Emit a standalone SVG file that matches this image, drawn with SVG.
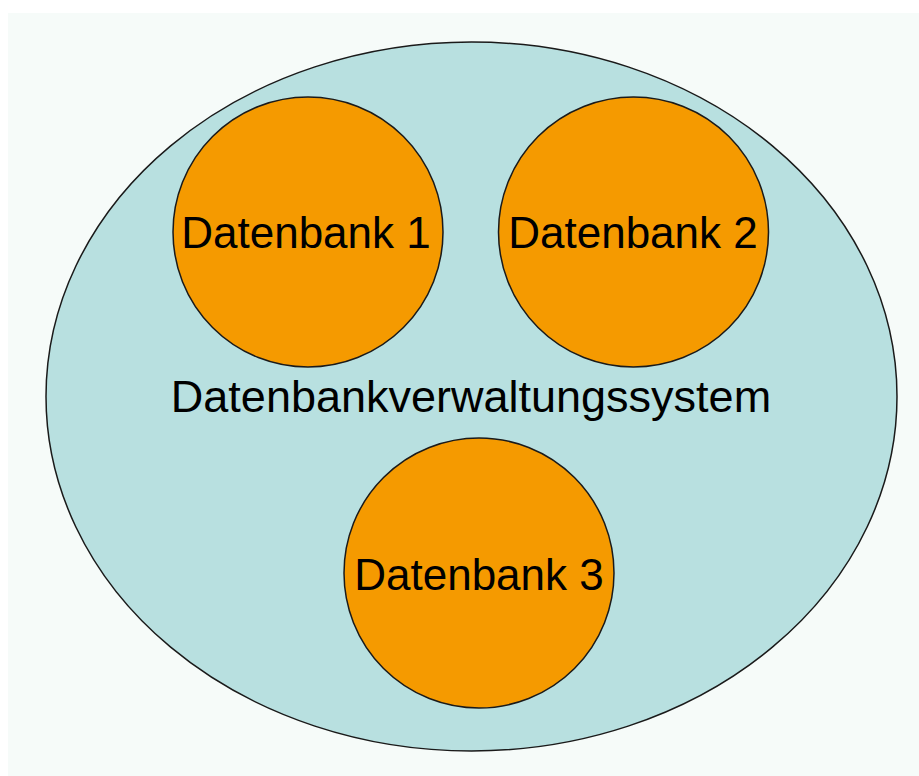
<svg xmlns="http://www.w3.org/2000/svg" width="919" height="776" viewBox="0 0 919 776">
<style>
.db{fill:#f59a00;stroke:#1a1a1a;stroke-width:1.5}
.t{font-family:"Liberation Sans",Arial,sans-serif;font-size:45px;fill:#000;text-anchor:middle}
.s{font-size:44px}
</style>
<rect x="0" y="0" width="919" height="776" fill="#ffffff"/>
<rect x="8" y="13" width="911" height="763" fill="#f6fbf9"/>
<g id="dbms">
<ellipse cx="471.5" cy="396.5" rx="425.5" ry="354.5" fill="#b8e0e0" stroke="#1a1a1a" stroke-width="1.5"/>
<text class="t" x="471" y="412">Datenbankverwaltungssystem</text>
</g>
<g id="db1">
<circle class="db" cx="308" cy="232" r="135"/>
<text class="t s" x="306" y="248">Datenbank 1</text>
</g>
<g id="db2">
<circle class="db" cx="633.5" cy="232" r="135"/>
<text class="t s" x="633" y="248">Datenbank 2</text>
</g>
<g id="db3">
<circle class="db" cx="479" cy="573" r="135"/>
<text class="t s" x="479" y="590">Datenbank 3</text>
</g>
<g id="connectors"/>
</svg>
